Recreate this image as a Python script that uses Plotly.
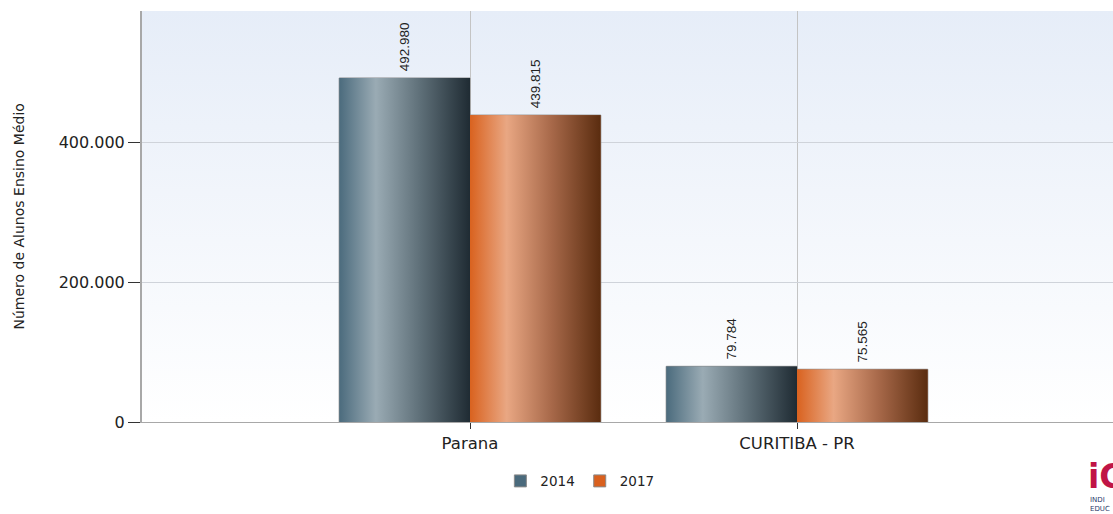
import base64

import plotly.graph_objects as go

categories = ["Parana", "CURITIBA - PR"]
years = ["2014", "2017"]
values_2014 = [492980, 79784]
values_2017 = [439815, 75565]

y_ticks = [0, 200000, 400000]

base_colors = {"2014": "#4a6a7c", "2017": "#d9601e"}
gradient_stops = {
    "2014": ["#4b6b7d", "#9aabb4", "#5e6f78", "#1f2b33"],
    "2017": ["#d9621f", "#e9a783", "#a8694a", "#5a2c0f"],
}

W, H = 1113, 514
L, R, T, B = 142, 0, 11, 92
plot_w = W - L - R
plot_h = H - T - B


def svg_uri(svg):
    return "data:image/svg+xml;base64," + base64.b64encode(svg.encode()).decode()


def bar_gradient(stops):
    s = stops
    svg = (
        '<svg xmlns="http://www.w3.org/2000/svg" width="100" height="100" '
        'viewBox="0 0 100 100" preserveAspectRatio="none">'
        '<defs><linearGradient id="g" x1="0" y1="0" x2="1" y2="0">'
        f'<stop offset="0" stop-color="{s[0]}"/>'
        f'<stop offset="0.28" stop-color="{s[1]}"/>'
        f'<stop offset="0.62" stop-color="{s[2]}"/>'
        f'<stop offset="1" stop-color="{s[3]}"/>'
        '</linearGradient></defs>'
        '<rect x="0" y="0" width="100" height="100" fill="url(#g)"/>'
        "</svg>"
    )
    return svg_uri(svg)


bg_svg = (
    '<svg xmlns="http://www.w3.org/2000/svg" width="100" height="100" '
    'viewBox="0 0 100 100" preserveAspectRatio="none">'
    '<defs><linearGradient id="g" x1="0" y1="0" x2="0" y2="1">'
    '<stop offset="0" stop-color="#e6edf8"/>'
    '<stop offset="1" stop-color="#ffffff"/>'
    '</linearGradient></defs>'
    '<rect x="0" y="0" width="100" height="100" fill="url(#g)"/>'
    "</svg>"
)

x_pos = list(range(len(categories)))
bar_w = 0.4

fig = go.Figure()
for year, vals in zip(years, [values_2014, values_2017]):
    fig.add_trace(
        go.Bar(
            x=x_pos,
            y=vals,
            name=year,
            marker=dict(color=base_colors[year], line=dict(color="#8a8a8a", width=1)),
            text=vals,
            texttemplate="\u00a0%{y:,d}",
            textposition="outside",
            textangle=-90,
            textfont=dict(family="Liberation Sans, Arial", size=13.5, color="#222222"),
            cliponaxis=False,
        )
    )

# background gradient + gradient overlays on each bar (data coordinates)
images = [
    dict(
        source=svg_uri(bg_svg),
        xref="paper", yref="paper", x=0, y=1, sizex=1, sizey=1,
        xanchor="left", yanchor="top", sizing="stretch", layer="below",
    )
]
for j, (year, vals) in enumerate(zip(years, [values_2014, values_2017])):
    for i, v in enumerate(vals):
        images.append(
            dict(
                source=bar_gradient(gradient_stops[year]),
                xref="x", yref="y",
                x=x_pos[i] - bar_w + j * bar_w, y=v,
                sizex=bar_w, sizey=v,
                xanchor="left", yanchor="top", sizing="stretch", layer="above",
            )
        )

# category spacing is ~327 px, first category centre at x=470
x_lo = -(470 - L) / 327.0
x_hi = x_lo + plot_w / 327.0

fig.update_layout(
    width=W,
    height=H,
    margin=dict(l=L, r=R, t=T, b=B),
    paper_bgcolor="white",
    plot_bgcolor="rgba(0,0,0,0)",
    barmode="group",
    bargap=0.2,
    bargroupgap=0,
    separators=",.",
    images=images,
    font=dict(family="DejaVu Sans, Verdana", size=15, color="#222222"),
    legend=dict(
        orientation="h",
        xref="container", yref="container",
        x=0.521, y=0.064, xanchor="center", yanchor="middle",
        font=dict(size=13.5, family="DejaVu Sans, Verdana", color="#222222"),
        itemwidth=30,
    ),
    showlegend=True,
    annotations=[
        dict(
            text="Número de Alunos Ensino Médio",
            xref="paper", yref="paper",
            x=(18 - L) / plot_w, y=0.5,
            textangle=-90, showarrow=False,
            font=dict(size=14, family="DejaVu Sans, Verdana", color="#222222"),
            xanchor="center", yanchor="middle",
        ),
        dict(
            text="<b>iC</b>",
            xref="paper", yref="paper",
            x=(1086 - L) / plot_w, y=(422 - 476) / plot_h,
            showarrow=False, xanchor="left", yanchor="middle",
            font=dict(size=33, family="DejaVu Sans", color="#c01446"),
        ),
        dict(
            text="INDI<br>EDUC",
            xref="paper", yref="paper",
            x=(1088 - L) / plot_w, y=(422 - 504) / plot_h,
            showarrow=False, xanchor="left", yanchor="middle", align="left",
            font=dict(size=7, family="DejaVu Sans", color="#2b3b6b"),
        ),
    ],
)

fig.update_xaxes(
    range=[x_lo, x_hi],
    tickvals=x_pos,
    ticktext=categories,
    showgrid=True,
    gridcolor="#c4c4c4",
    gridwidth=1,
    showline=True,
    linecolor="#a8a8a8",
    linewidth=1,
    ticks="outside",
    ticklen=6,
    tickcolor="#333333",
    tickfont=dict(size=16.5, family="DejaVu Sans, Verdana", color="#222222"),
    zeroline=False,
)
fig.update_yaxes(
    range=[0, 589000],
    tickvals=y_ticks,
    tickformat=",d",
    showgrid=True,
    gridcolor="#cfd3da",
    gridwidth=1,
    showline=True,
    linecolor="#a8a8a8",
    linewidth=2,
    ticks="outside",
    ticklen=12,
    tickcolor="#333333",
    tickfont=dict(size=16, family="DejaVu Sans, Verdana", color="#222222"),
    zeroline=False,
)

# the page body has a default 8px margin; drop it so the figure sits at (0, 0)
fig.write_html(
    "out.html",
    config={"displayModeBar": False},
    post_script="document.body.style.margin='0';",
)
